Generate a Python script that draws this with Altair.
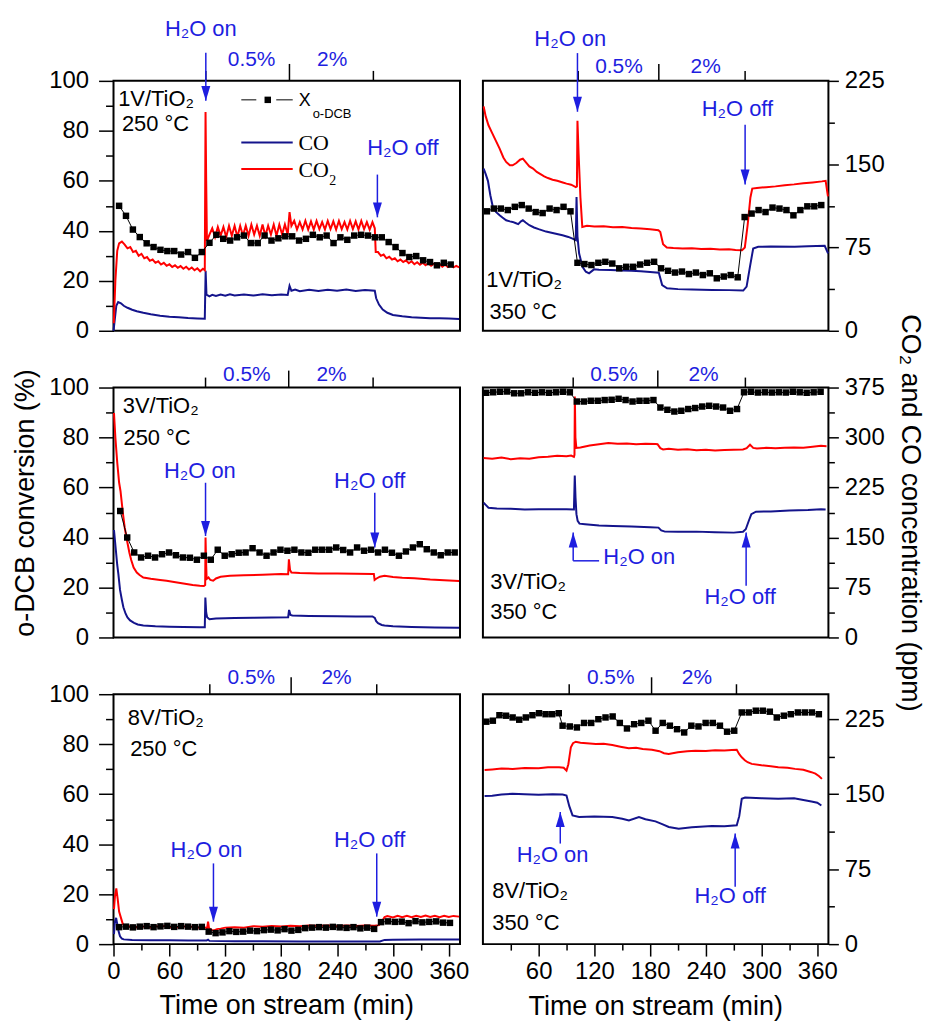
import altair as alt
import pandas as pd

NAVY = "#14148c"
RED = "#ff0000"
BLUE = "#1e1ee0"
SANS = "Liberation Sans"
SERIF = "Liberation Serif"
T_DOMAIN = [0, 372]

# ---------------- Panel A : 1V/TiO2, 250 C (left axis, %) ----------------
A_CO = [(0, 0), (1.5, 5), (3, 10), (5, 11.5), (8, 11), (11, 10), (15, 9.2), (20, 8.4), (25, 7.8), (32, 7.2),
        (40, 6.6), (50, 6.0), (60, 5.6), (70, 5.4), (80, 5.1), (90, 4.9), (98, 4.8), (98.9, 24), (99.8, 14.5),
        (103, 13.8), (106, 14.4), (110, 13.9), (115, 14.5), (120, 14.0), (125, 14.6), (130, 14.1), (140, 14.5),
        (150, 14.1), (160, 14.6), (170, 14.2), (180, 14.5), (187, 14.3), (189, 18), (191, 16), (195, 16.5),
        (200, 15.8), (210, 16.4), (220, 15.9), (230, 16.4), (240, 16.0), (250, 16.5), (260, 15.9), (270, 16.3),
        (280.5, 16.0), (282, 13), (285, 10.5), (289, 8.5), (294, 7.2), (300, 6.3), (310, 5.8), (320, 5.4),
        (330, 5.2), (340, 5.0), (350, 5.0), (360, 4.9), (371, 4.7)]
A_CO2 = [(0.3, 3), (2, 20), (4, 32), (6, 35), (9, 35.7), (12, 34.5), (15, 33), (18, 33.5), (21, 31.5), (24, 32),
         (27, 30), (30, 30.8), (33, 29), (36, 29.5), (39, 28), (42, 28.5), (45, 27.2), (48, 27.8), (51, 26.5),
         (54, 27.2), (57, 26), (60, 26.6), (63, 25.5), (66, 26.2), (69, 25.2), (72, 25.9), (75, 24.8), (78, 25.6),
         (81, 24.5), (84, 25.3), (87, 24.2), (90, 25), (93, 23.8), (96, 24.8), (98, 24.2), (98.8, 87.5),
         (99.5, 60), (100.3, 36), (103, 38.5), (106, 41), (109, 37.5), (112, 41.5), (115, 38), (118, 41.5),
         (121, 37.5), (124, 42), (127, 38), (130, 42), (133, 37.5), (136, 42), (139, 38), (142, 42), (145, 38),
         (148, 42.5), (151, 38.5), (154, 42), (157, 38), (160, 42.5), (163, 38), (166, 42), (169, 38.5),
         (172, 42.5), (175, 38), (178, 42.5), (181, 38.5), (184, 42.5), (187, 38.5), (189, 47.5), (191, 42),
         (194, 44), (197, 40.5), (200, 43.5), (203, 40.5), (206, 44), (209, 40.5), (212, 43.8), (215, 40.5),
         (218, 44), (221, 40.7), (224, 43.5), (227, 40.5), (230, 44), (233, 40.7), (236, 43.8), (239, 40.5),
         (242, 44), (245, 40.7), (248, 43.5), (251, 40.5), (254, 44), (257, 40.7), (260, 43.8), (263, 40.5),
         (266, 44), (269, 40.7), (272, 43.5), (275, 40.5), (278, 43.5), (280.5, 41), (281.5, 31.5), (284, 31.5),
         (287, 30), (290, 30.5), (293, 29), (296, 29.6), (299, 28.5), (302, 29), (305, 27.8), (308, 28.5),
         (311, 27.5), (314, 28.2), (317, 27), (320, 27.8), (323, 26.6), (326, 27.4), (329, 26.4), (332, 27.2),
         (335, 26.2), (338, 27), (341, 26), (344, 26.8), (347, 25.8), (350, 26.6), (353, 25.6), (356, 26.4),
         (359, 25.5), (362, 26.2), (365, 25.4), (368, 26), (371, 25.4)]
A_X_T = [6.0, 13.4, 20.8, 28.2, 35.6, 43.0, 50.4, 57.8, 65.2, 72.6, 80.0, 87.4, 94.8, 103.0, 110.4, 117.8,
         125.2, 132.6, 140.0, 147.4, 154.8, 162.2, 169.6, 177.0, 184.4, 191.8, 199.2, 206.6, 214.0, 221.4,
         228.8, 236.2, 243.6, 251.0, 258.4, 265.8, 273.2, 280.6, 288.0, 295.4, 302.8, 310.2, 317.6, 325.0,
         332.4, 339.8, 347.2, 354.6, 362.0]
A_X_V = [50, 46, 40.5, 37.5, 35, 33.5, 32.4, 31.9, 31.9, 30.5, 31.5, 29.2, 31.5,
         35.2, 38.4, 36.8, 36.1, 37.4, 38.1, 35.1, 35.1, 38.1, 36.1, 37.0, 37.8, 37.8, 36.1, 36.8, 38.4, 37.4,
         38.1, 35.1, 37.4, 36.4, 38.1, 38.4, 38.1, 37.4,
         37.4, 35.5, 33.5, 31.1, 29.5, 29.9, 28.2, 27.5, 26.2, 27.2, 26.5]

# ---------------- Panel B : 1V/TiO2, 350 C (right axis, ppm) ----------------
B_CO = [(0.8, 146), (3, 141), (5.4, 135), (8, 122), (10.7, 111.4), (14, 107), (18, 104), (21, 102), (25, 99.5),
        (29, 98.5), (32, 98), (35, 97), (38, 96), (41, 98.5), (43, 99.5), (46, 97.5), (50, 95), (55, 93),
        (60, 91.5), (68, 89.3), (75, 88), (85.7, 86), (92, 84.5), (96.5, 83), (100, 81.6), (100.8, 120.4),
        (101.8, 85), (103.6, 69.6), (107.2, 57.6), (110.8, 53.2), (114.3, 51.7), (119.6, 55.3), (125, 55),
        (137.5, 54.7), (150, 54.3), (160, 54), (170, 53.5), (180, 53), (189.4, 52.3), (193, 41.2),
        (198.3, 38.3), (210, 37.5), (225, 37.2), (246.6, 36.8), (265, 36.6), (280.3, 36.2), (283.9, 39.7),
        (287.5, 57.6), (291, 74.1), (296.4, 75.6), (310, 75.8), (335.7, 75.6), (350, 76.2), (368, 76.5),
        (371.6, 69.6)]
B_CO2 = [(0.8, 202), (3, 193), (6, 185), (10, 178), (14, 171), (18, 164), (22, 156), (25, 152), (29, 149),
         (32, 149), (36, 151), (40, 154), (43, 155), (47, 151), (50, 148), (54, 146), (58, 143), (62, 141),
         (66, 139), (70, 137.5), (75, 136), (80, 135), (86, 133.5), (90, 132.5), (95, 131.5), (100, 129.4),
         (101.2, 130), (101.8, 189), (103, 160), (105, 120), (107, 93.5), (112, 94.5), (120, 93.8), (130, 94.2),
         (140, 93.2), (150, 93.5), (160, 92.5), (170, 92), (180, 91.5), (189, 90.5), (191, 89), (194, 78),
         (198, 75), (205, 74.5), (215, 74), (225, 74.3), (235, 73.6), (245, 73.8), (255, 73.2), (265, 73.4),
         (272, 72.7), (279, 72.6), (282, 75), (285, 95), (288, 120), (290, 128), (295, 128.5), (305, 129.3),
         (315, 130), (325, 131), (335, 131.8), (345, 132.8), (355, 133.6), (365, 134.5), (369, 135),
         (371.5, 121)]
B_X_T = [4.3, 11.8, 19.3, 26.8, 34.3, 41.8, 49.3, 56.8, 64.3, 71.8, 79.3, 86.8, 94.3, 101.8, 109.3, 116.8,
         124.3, 131.8, 139.3, 146.8, 154.3, 161.8, 169.3, 176.8, 184.3, 191.8, 199.3, 206.8, 214.3, 221.8,
         229.3, 236.8, 244.3, 251.8, 259.3, 266.8, 274.3, 281.8, 289.3, 296.8, 304.3, 311.8, 319.3, 326.8,
         334.3, 341.8, 349.3, 356.8, 364.3]
B_X_V = [47.8, 48.9, 48.9, 48.3, 49.6, 50.3, 48.9, 47.5, 47.1, 48.9, 48.3, 49.6, 47.8,
         27.2, 26.7, 26.3, 27.2, 27.6, 26.9, 25.0, 25.6, 25.6, 26.5, 27.2, 27.6, 25.0, 24.0, 23.3, 23.7, 22.7,
         23.3, 22.3, 23.0, 21.0, 21.7, 22.3, 21.4,
         45.5, 46.9, 48.3, 47.5, 49.3, 48.9, 48.3, 46.2, 48.3, 49.8, 49.8, 50.3]

# ---------------- Panel C : 3V/TiO2, 250 C (left axis, %) ----------------
C_CO = [(0.5, 43), (2.5, 35), (4, 29), (5.2, 25.4), (7, 19), (9, 15), (10.6, 12.1), (13, 9.5), (15, 8),
        (17.8, 6.8), (22, 5.8), (26, 5.2), (32, 4.8), (45, 4.5), (60, 4.3), (75, 4.2), (92.6, 4.1), (98, 4.1),
        (98.6, 16), (99.5, 10), (100.5, 8.1), (103, 7.3), (110, 7.6), (130, 7.8), (150, 7.9), (170, 8),
        (187.5, 8.1), (188.5, 11), (190, 9), (192, 8.8), (210, 8.6), (240, 8.5), (260, 8.4), (278, 8.4),
        (280.5, 7.8), (282, 6.5), (284, 5.7), (288, 5.0), (291, 4.8), (300, 4.5), (320, 4.2), (345, 4.0),
        (371, 3.9)]
C_CO2 = [(0.5, 89.8), (2, 80), (4, 70), (6, 62), (7.5, 58.6), (10, 50), (12, 44), (14.6, 38.6), (17, 34),
         (19, 31), (21.6, 28), (25, 26), (28, 25), (32, 24), (40, 23.5), (50, 23), (57, 22.7), (65, 22.2),
         (75, 21.6), (85, 21), (92.6, 20.7), (97, 20.6), (98.4, 21), (98.8, 40), (99.4, 30), (100, 23.4),
         (102, 24), (104, 23), (107, 22.7), (110, 23.6), (115, 24.3), (125, 24.7), (140, 24.9), (160, 25.1),
         (180, 25.4), (187.5, 25.3), (188.3, 31.3), (189.5, 27), (191, 26), (200, 25.8), (220, 25.6),
         (240, 25.6), (260, 25.5), (278, 25.4), (279.5, 25.4), (280.3, 23), (282, 23.5), (286, 24.3),
         (291, 24.7), (300, 24.2), (310, 23.9), (323, 23.7), (340, 23.2), (355, 22.9), (371, 22.6)]
C_X_T = [7.2, 14.7, 22.2, 29.6, 37.1, 44.6, 52.1, 59.6, 67.0, 74.5, 82.0, 89.5, 97.0, 104.4, 111.9, 119.4,
         126.9, 134.4, 141.8, 149.3, 156.8, 164.3, 171.8, 179.2, 186.7, 194.2, 201.7, 209.2, 216.6, 224.1,
         231.6, 239.1, 246.6, 254.0, 261.5, 269.0, 276.5, 284.0, 291.4, 298.9, 306.4, 313.9, 321.4, 328.8,
         336.3, 343.8, 351.3, 358.8, 366.3]
C_X_V = [50.6, 40, 34, 32, 32.7, 32, 33.3, 34, 32.9, 32, 31.9, 31.1, 32.7, 31.1, 35.1, 32.7, 33.3, 33.9, 34,
         35.7, 34, 32.7, 34, 35.1, 34.7, 35.1, 34, 33.9, 35.1, 35.1, 35.1, 36, 35, 34, 36, 34.7, 35.1, 34,
         35.1, 33.9, 32.7, 34.4, 36, 37.3, 35.3, 34, 32.9, 34, 34]

# ---------------- Panel D : 3V/TiO2, 350 C (right axis, ppm) ----------------
D_CO = [(0.8, 202.2), (3, 199), (6, 194.7), (15, 193.5), (30, 193), (45, 192), (60, 192.5), (75, 192.3),
        (90, 192.3), (98, 192), (98.9, 243), (99.7, 210), (100.7, 185), (102, 175), (104, 170.8), (110, 169.9),
        (125, 168), (140, 167.4), (160, 166.5), (180, 165.5), (189, 164.8), (192, 160.5), (196, 158.8),
        (210, 158.5), (230, 158.8), (250, 158), (270, 157.3), (280, 158.5), (283, 162.3), (286, 174),
        (289, 185), (294, 188.7), (310, 189), (330, 190.5), (350, 191.3), (364, 192.3), (369, 192)]
D_CO2 = [(0.8, 269.4), (10, 268), (20, 270), (30, 267.5), (40, 269), (50, 268), (60, 270.5), (70, 271),
         (80, 272.5), (90, 272), (95, 273), (98, 271), (98.6, 274), (99, 361.6), (99.6, 300), (100.6, 284.4),
         (105, 285), (115, 288), (125, 290), (135, 291.8), (145, 290.5), (155, 291), (165, 290), (175, 290.5),
         (186, 290.4), (188, 290), (191, 284), (194, 282.2), (200, 283), (210, 281.5), (220, 282.3), (230, 281),
         (240, 281.8), (250, 280.5), (260, 281.2), (270, 281.5), (280, 282), (284, 284), (287.6, 289.4),
         (291, 284.4), (295, 283.5), (305, 284.5), (315, 283.8), (325, 284.5), (335, 285), (345, 284.6),
         (355, 286), (364, 287.5), (370, 287)]
D_X_T = [3.6, 11.1, 18.6, 26.1, 33.6, 41.1, 48.6, 56.1, 63.6, 71.1, 78.6, 86.1, 93.6, 101.1, 108.6, 116.1,
         123.6, 131.1, 138.6, 146.1, 153.6, 161.1, 168.6, 176.1, 183.6, 191.1, 198.6, 206.1, 213.6, 221.1,
         228.6, 236.1, 243.6, 251.1, 258.6, 266.1, 273.6, 281.1, 288.6, 296.1, 303.6, 311.1, 318.6, 326.1,
         333.6, 341.1, 348.6, 356.1, 363.6]
D_X_V = [97.9, 98.1, 98.3, 98.4, 97.7, 97.7, 98.1, 97.9, 98.1, 97.9, 98.1, 98.3, 98.1,
         94.4, 94.4, 94.7, 94.7, 95.0, 95.1, 95.5, 95.0, 94.4, 94.7, 94.7, 95.0,
         92.0, 91.1, 90.4, 90.7, 91.4, 91.8, 92.4, 92.7, 92.4, 92.0, 90.7, 91.4,
         98.1, 98.3, 98.0, 98.1, 98.0, 98.1, 98.0, 98.3, 98.1, 97.9, 98.1, 98.3]

# ---------------- Panel E : 8V/TiO2, 250 C (left axis, %) ----------------
E_CO = [(0.5, 4), (1.5, 9), (2.8, 10.5), (4, 8), (5.5, 5), (7, 3.1), (9, 2.2), (11, 1.9), (20, 1.7), (40, 1.6),
        (60, 1.6), (80, 1.5), (100, 1.5), (101.5, 1.8), (103, 1.3), (130, 1.2), (160, 1.2), (200, 1.1),
        (240, 1.1), (286, 1.1), (291, 1.7), (300, 1.8), (330, 1.9), (371, 1.9)]
E_CO2 = [(0.5, 14), (1.5, 19), (3, 22.3), (4.5, 18), (6, 13), (8, 10.5), (10, 8), (12, 7.2), (15, 7.6),
         (18, 6.8), (21, 7.4), (24, 6.6), (27, 7.3), (30, 6.7), (35, 7.4), (40, 6.6), (45, 7.3), (50, 6.7),
         (55, 7.3), (60, 6.6), (65, 7.2), (70, 6.6), (75, 7.2), (80, 6.5), (85, 7.1), (90, 6.5), (95, 7.0),
         (100.5, 6.4), (101.5, 9), (102.5, 6.5), (105, 5.7), (108, 5.5), (111, 6), (115, 6.2), (120, 6.6),
         (130, 6.8), (140, 6.6), (150, 7.2), (160, 7), (170, 7.3), (180, 7.1), (190, 7.4), (200, 7.2),
         (210, 7.5), (220, 7.3), (230, 7.5), (240, 7.2), (250, 7.5), (260, 7.3), (270, 7.5), (280, 7.4),
         (285, 7.6), (288, 9), (291, 10.8), (294, 11.2), (300, 10.7), (305, 11.3), (310, 10.8), (315, 11.3),
         (320, 10.8), (325, 11.3), (330, 10.9), (335, 11.4), (340, 10.9), (345, 11.3), (350, 10.8),
         (355, 11.3), (360, 10.9), (365, 11.3), (371, 11)]
E_X_T = [6.0, 13.4, 20.8, 28.2, 35.6, 43.0, 50.4, 57.8, 65.2, 72.6, 80.0, 87.4, 94.8, 102.2, 109.6, 117.0,
         124.4, 131.8, 139.2, 146.6, 154.0, 161.4, 168.8, 176.2, 183.6, 191.0, 198.4, 205.8, 213.2, 220.6,
         228.0, 235.4, 242.8, 250.2, 257.6, 265.0, 272.4, 279.8, 287.2, 294.6, 302.0, 309.4, 316.8, 324.2,
         331.6, 339.0, 346.4, 353.8, 361.2]
E_X_V = [6.8, 7.0, 6.7, 7.0, 7.2, 6.8, 7.1, 7.3, 6.9, 7.2, 7.0, 6.8, 6.9,
         5.0, 4.4, 4.7, 5.2, 4.9, 5.0, 5.4, 5.2, 5.6, 5.8, 5.5, 6.0, 5.4, 5.7, 6.4, 6.6, 6.8, 6.6, 6.9, 6.7,
         6.5, 6.8, 6.3, 6.6, 6.1,
         8.8, 9.1, 8.9, 9.0, 8.4, 9.2, 8.7, 8.9, 9.1, 8.6, 8.5]

# ---------------- Panel F : 8V/TiO2, 350 C (right axis, ppm) ----------------
F_CO = [(1.8, 148.1), (10, 148.5), (20, 149.6), (32, 150.4), (45, 150), (60, 149.5), (75, 150), (85.8, 149.7),
        (90, 148.7), (93, 138), (96.5, 128.8), (103.6, 127.2), (120, 127.6), (139.3, 127.2), (150, 125.5),
        (157.2, 123.8), (168, 127.2), (175, 125), (185.8, 122.8), (193, 120), (200.1, 117.2), (210.8, 115.5),
        (225, 116.8), (246.5, 118.2), (260, 118), (273.3, 118.8), (276, 128), (278.7, 145.4), (282.3, 146.7),
        (300, 146), (318, 145.4), (335, 146), (353.7, 142.7), (360, 141.5), (364.4, 138.7)]
F_CO2 = [(1.8, 174.3), (10, 174.8), (20, 175.6), (32, 175.3), (45, 176.3), (60, 176), (70, 177), (82, 177),
         (87, 176.5), (90, 173.6), (92, 180), (94.7, 197), (97, 201), (100, 202.5), (105, 201.5), (115, 200.8),
         (121.5, 200.2), (130, 200.5), (139.3, 199.2), (148, 197.5), (157, 195.9), (165, 196.5), (172, 195.2),
         (182, 194.5), (190, 193), (195, 191), (200, 190.2), (210, 192), (220, 193), (228.7, 193.5),
         (240, 193.2), (250, 194), (260, 193.6), (268, 194.2), (273.3, 194.5), (276, 190), (278.7, 186.9),
         (282, 184), (285, 182), (289.4, 180.3), (300, 179), (310, 178), (318, 177), (328, 176.5),
         (336, 175.3), (345, 174.5), (353.7, 172), (358, 170.5), (362, 168), (365, 165.3)]
F_X_T = [3.6, 10.7, 17.8, 24.9, 32.0, 39.1, 46.2, 53.3, 60.4, 67.5, 74.6, 81.7,
         85.8, 93.5, 101.2, 108.9, 116.6, 124.3, 132.0, 139.7, 147.4, 155.1, 162.8, 170.5, 178.2, 185.9,
         193.6, 201.3, 209.0, 216.7, 224.4, 232.1, 239.8, 247.5, 255.2, 262.9, 270.6,
         278.7, 286.2, 293.8, 301.3, 308.9, 316.4, 324.0, 331.5, 339.1, 346.6, 354.2, 361.7]
F_X_V = [89.0, 89.4, 91.6, 91.4, 90.7, 89.8, 90.7, 91.6, 92.4, 92.0, 92.0, 92.4,
         87.4, 87.1, 86.7, 88.5, 88.5, 90.0, 90.7, 91.1, 88.5, 86.3, 88.0, 88.5, 89.4, 85.4, 88.5, 87.4, 86.0,
         84.7, 87.4, 87.1, 88.5, 88.5, 87.4, 85.0, 85.4,
         92.7, 92.7, 93.4, 93.4, 93.0, 90.7, 91.4, 92.0, 92.7, 92.7, 92.7, 92.0]

# ---------------- annotations (time, panel-unit positions) ----------------
TOP_LABELS = ["0.5%", "2%"]
A_TICKS, B_TICKS, C_TICKS = [99.1, 188.9, 279.0], [102.6, 189.4, 282.3], [98.8, 188.1, 278.7]
D_TICKS, E_TICKS, F_TICKS = [97.2, 188.3, 282.6], [103.4, 190.7, 282.6], [92.9, 181.6, 273.0]
A_LAB_T, B_LAB_T, C_LAB_T = [148.3, 234.8], [146.5, 239.8], [143.2, 234.1]
D_LAB_T, E_LAB_T, F_LAB_T = [141.2, 237.6], [147.9, 239.4], [137.6, 230.4]

# arrows: (time, shaft start, tip, direction)
A_ARROWS = [(99.1, 111.2, 92.0, "down"), (283.3, 62.5, 45.4, "down")]
B_ARROWS = [(101.8, 250.0, 197.2, "down"), (282.3, 185.5, 131.8, "down")]
C_ARROWS = [(98.8, 61.9, 40.6, "down"), (280.5, 57.9, 36.0, "down")]
D_ARROWS = [(97.2, 115.0, 157.3, "up"), (283.4, 77.7, 157.3, "up")]
E_ARROWS = [(107.3, 32.3, 9.0, "down"), (282.6, 36.3, 11.0, "down")]
F_ARROWS = [(83.3, 100.6, 132.2, "up"), (271.6, 57.5, 110.6, "up")]
D_ELBOW = [(97.2, 125.1, 115.0)]

A_H2O = [(93.7, 117.9, "H\u2082O on"), (310.7, 70.5, "H\u2082O off")]
B_H2O = [(94.0, 256.4, "H\u2082O on"), (274.0, 193.6, "H\u2082O off")]
C_H2O = [(92.7, 63.9, "H\u2082O on"), (275.1, 59.9, "H\u2082O off")]
D_H2O = [(277.0, 50.3, "H\u2082O off")]
D_H2O_LEFT = [(129.7, 110.1, "H\u2082O on")]
E_H2O = [(99.8, 34.9, "H\u2082O on"), (274.9, 38.9, "H\u2082O off")]
F_H2O = [(75.0, 82.4, "H\u2082O on"), (266.2, 40.8, "H\u2082O off")]

A_SAMPLE = [(5.0, 90.0, "1V/TiO\u2082"), (9.0, 80.0, "250 \u00b0C")]
B_SAMPLE = [(3.6, 39.4, "1V/TiO\u2082"), (7.2, 10.8, "350 \u00b0C")]
C_SAMPLE = [(10.0, 89.8, "3V/TiO\u2082"), (10.7, 76.9, "250 \u00b0C")]
D_SAMPLE = [(7.9, 72.8, "3V/TiO\u2082"), (7.9, 27.9, "350 \u00b0C")]
E_SAMPLE = [(15.4, 87.6, "8V/TiO\u2082"), (17.9, 75.2, "250 \u00b0C")]
F_SAMPLE = [(10.1, 45.8, "8V/TiO\u2082"), (10.1, 14.2, "350 \u00b0C")]

# legend (panel A)
LEG_DASHES = [(137.2, 153.3, 92.4), (174.7, 192.4, 92.4)]
LEG_LINES = [(137.2, 192.4, 75.3, "CO"), (137.2, 192.4, 64.7, "CO2")]
LEG_SQUARE = [(165.6, 92.4)]
LEG_SANS = [(198.8, 89.9, "X", 18), (213.8, 85.3, "o-DCB", 13)]
LEG_SERIF = [(198.5, 72.4, "CO", 22), (198.5, 61.4, "CO", 22), (231.6, 58.3, "2", 14)]

LEFT_MAJOR, LEFT_MINOR = [0, 20, 40, 60, 80, 100], [10, 30, 50, 70, 90]
R225_MAJOR, R225_MINOR = [0, 75, 150, 225], [37.5, 112.5, 187.5]
R375_MAJOR, R375_MINOR = [0, 75, 150, 225, 300, 375], [37.5, 112.5, 187.5, 262.5, 337.5]
X_MAJOR_E = [0, 60, 120, 180, 240, 300, 360]
X_MAJOR_F = [60, 120, 180, 240, 300, 360]
X_MINOR = [30, 90, 150, 210, 270, 330]

HEAD_DOWN = "M0,0L-0.6,-2L0.6,-2Z"
HEAD_UP = "M0,0L-0.6,2L0.6,2Z"


def X(axis=None):
    return alt.X("t:Q", scale=alt.Scale(domain=T_DOMAIN, nice=False, zero=False), axis=axis)


def Y(field, top, axis=None):
    return alt.Y(f"{field}:Q", scale=alt.Scale(domain=[0, top], nice=False, zero=False), axis=axis)


def axis_y(side, vals, major):
    common = dict(orient=side, values=vals, domain=False, grid=False, title=None, tickColor="black",
                  tickWidth=1.5, labelFlush=False, labelOverlap=False)
    if major:
        return alt.Axis(tickSize=15 if side == "left" else 10, labelPadding=10 if side == "left" else 6,
                        labelFont=SANS, labelFontSize=24, labelColor="black", **common)
    return alt.Axis(tickSize=8 if side == "left" else 6, labels=False, **common)


def axis_x(vals, major):
    common = dict(orient="bottom", values=vals, domain=False, grid=False, title=None, tickColor="black",
                  tickWidth=1.5, labelFlush=False, labelOverlap=False)
    if major:
        return alt.Axis(tickSize=12, labelPadding=4, labelFont=SANS, labelFontSize=24, labelColor="black",
                        **common)
    return alt.Axis(tickSize=6, labels=False, **common)


def text_layer(rows, top, color, align, size=22, font=SANS):
    df = pd.DataFrame(rows, columns=["t", "v", "label"])
    return alt.Chart(df).mark_text(font=font, fontSize=size, color=color, align=align,
                                   baseline="alphabetic").encode(x=X(), y=Y("v", top), text="label:N")


def panel(co, co2, xt, xv, top, side, ymaj, ymin, ticks, lab_t, lab_off, arrows, h2o, sample,
          width, xmaj=None, extra=()):
    lines_df = pd.DataFrame([{"t": t, "v": v, "s": "CO"} for t, v in co] +
                            [{"t": t, "v": v, "s": "CO2"} for t, v in co2])
    layers = [
        alt.Chart(lines_df).mark_line(strokeWidth=2).encode(
            x=X(axis_x(xmaj, True) if xmaj else None),
            y=Y("v", top, axis_y(side, ymaj, True)),
            color=alt.Color("s:N", scale=alt.Scale(domain=["CO", "CO2"], range=[NAVY, RED]), legend=None)),
        alt.Chart(lines_df).mark_point(opacity=0).encode(
            x=X(axis_x(X_MINOR, False) if xmaj else None),
            y=Y("v", top, axis_y(side, ymin, False))),
    ]
    xdf = pd.DataFrame({"t": xt, "v": xv})
    layers.append(alt.Chart(xdf).mark_line(color="black", strokeWidth=1).encode(x=X(), y=Y("v", 100)))
    layers.append(alt.Chart(xdf).mark_square(color="black", size=42, opacity=1).encode(x=X(), y=Y("v", 100)))
    layers.append(alt.Chart(pd.DataFrame({"t": [ticks[0], ticks[2]]})).mark_rule(
        color="black", strokeWidth=1.5).encode(x=X(), y=alt.value(0), y2=alt.value(-10)))
    layers.append(alt.Chart(pd.DataFrame({"t": [ticks[1]]})).mark_rule(
        color="black", strokeWidth=1.5).encode(x=X(), y=alt.value(0), y2=alt.value(-17)))
    layers.append(alt.Chart(pd.DataFrame({"t": lab_t, "label": TOP_LABELS})).mark_text(
        font=SANS, fontSize=21, color=BLUE, baseline="alphabetic").encode(
        x=X(), y=alt.value(-lab_off), text="label:N"))
    adf = pd.DataFrame(arrows, columns=["t", "v0", "v1", "dir"])
    layers.append(alt.Chart(adf).mark_rule(color=BLUE, strokeWidth=1.5).encode(
        x=X(), y=Y("v0", top), y2="v1:Q"))
    layers.append(alt.Chart(adf).mark_point(filled=True, size=225, opacity=1, color=BLUE).encode(
        x=X(), y=Y("v1", top),
        shape=alt.Shape("dir:N", scale=alt.Scale(domain=["down", "up"], range=[HEAD_DOWN, HEAD_UP]),
                        legend=None)))
    if h2o:
        layers.append(text_layer(h2o, top, BLUE, "center"))
    layers.append(text_layer(sample, top, "black", "left"))
    layers.extend(extra)
    return alt.layer(*layers).properties(width=width, height=251).resolve_scale(
        y="independent").resolve_axis(x="independent", y="independent")


# panel A extras: legend + layout anchor
leg_extra = [
    alt.Chart(pd.DataFrame(LEG_DASHES, columns=["t", "t2", "v"])).mark_rule(
        color="black", strokeWidth=1).encode(x=X(), x2="t2:Q", y=Y("v", 100)),
    alt.Chart(pd.DataFrame(LEG_LINES, columns=["t", "t2", "v", "s"])).mark_rule(strokeWidth=2).encode(
        x=X(), x2="t2:Q", y=Y("v", 100),
        color=alt.Color("s:N", scale=alt.Scale(domain=["CO", "CO2"], range=[NAVY, RED]), legend=None)),
    alt.Chart(pd.DataFrame(LEG_SQUARE, columns=["t", "v"])).mark_square(
        color="black", size=42, opacity=1).encode(x=X(), y=Y("v", 100)),
]
for t, v, s, fs in LEG_SANS:
    leg_extra.append(text_layer([(t, v, s)], 100, "black", "left", size=fs))
for t, v, s, fs in LEG_SERIF:
    leg_extra.append(text_layer([(t, v, s)], 100, "black", "left", size=fs, font=SERIF))
leg_extra.append(alt.Chart(pd.DataFrame({"a": [0]})).mark_rule(opacity=0).encode(
    x=alt.value(-113), x2=alt.value(-112), y=alt.value(-78), y2=alt.value(-78)))

c_extra = [alt.Chart(pd.DataFrame({"label": ["o-DCB conversion (%)"]})).mark_text(
    font=SANS, fontSize=27, angle=270, align="center", baseline="alphabetic", color="black").encode(
    x=alt.value(-80), y=alt.value(116), text="label:N")]
d_extra = [
    alt.Chart(pd.DataFrame(D_ELBOW, columns=["t", "t2", "v"])).mark_rule(color=BLUE, strokeWidth=1.5).encode(
        x=X(), x2="t2:Q", y=Y("v", 375)),
    text_layer(D_H2O_LEFT, 375, BLUE, "left"),
    alt.Chart(pd.DataFrame({"label": ["CO\u2082 and CO concentration (ppm)"]})).mark_text(
        font=SANS, fontSize=27, angle=90, align="center", baseline="alphabetic", color="black").encode(
        x=alt.value(421), y=alt.value(126), text="label:N"),
]
e_extra = [alt.Chart(pd.DataFrame({"label": ["Time on stream (min)"]})).mark_text(
    font=SANS, fontSize=27, align="center", baseline="alphabetic", color="black").encode(
    x=alt.value(174), y=alt.value(321), text="label:N")]
f_extra = [alt.Chart(pd.DataFrame({"label": ["Time on stream (min)"]})).mark_text(
    font=SANS, fontSize=27, align="center", baseline="alphabetic", color="black").encode(
    x=alt.value(173.5), y=alt.value(322), text="label:N")]

pA = panel(A_CO, A_CO2, A_X_T, A_X_V, 100, "left", LEFT_MAJOR, LEFT_MINOR, A_TICKS, A_LAB_T, 15, A_ARROWS,
           A_H2O, A_SAMPLE, 348, extra=leg_extra)
pB = panel(B_CO, B_CO2, B_X_T, B_X_V, 225, "right", R225_MAJOR, R225_MINOR, B_TICKS, B_LAB_T, 8, B_ARROWS,
           B_H2O, B_SAMPLE, 347)
pC = panel(C_CO, C_CO2, C_X_T, C_X_V, 100, "left", LEFT_MAJOR, LEFT_MINOR, C_TICKS, C_LAB_T, 7, C_ARROWS,
           C_H2O, C_SAMPLE, 348, extra=c_extra)
pD = panel(D_CO, D_CO2, D_X_T, D_X_V, 375, "right", R375_MAJOR, R375_MINOR, D_TICKS, D_LAB_T, 7, D_ARROWS,
           D_H2O, D_SAMPLE, 347, extra=d_extra)
pE = panel(E_CO, E_CO2, E_X_T, E_X_V, 100, "left", LEFT_MAJOR, LEFT_MINOR, E_TICKS, E_LAB_T, 10, E_ARROWS,
           E_H2O, E_SAMPLE, 348, xmaj=X_MAJOR_E, extra=e_extra)
pF = panel(F_CO, F_CO2, F_X_T, F_X_V, 250, "right", R225_MAJOR, R225_MINOR, F_TICKS, F_LAB_T, 10, F_ARROWS,
           F_H2O, F_SAMPLE, 347, xmaj=X_MAJOR_F, extra=f_extra)

chart = alt.concat(pA, pB, pC, pD, pE, pF, columns=2, spacing={"row": 57, "column": 23},
                   bounds="flush").properties(padding=0, background="white").configure_view(
    stroke="black", strokeWidth=2)

chart.save("out.html", embed_options={"renderer": "svg", "actions": False})
